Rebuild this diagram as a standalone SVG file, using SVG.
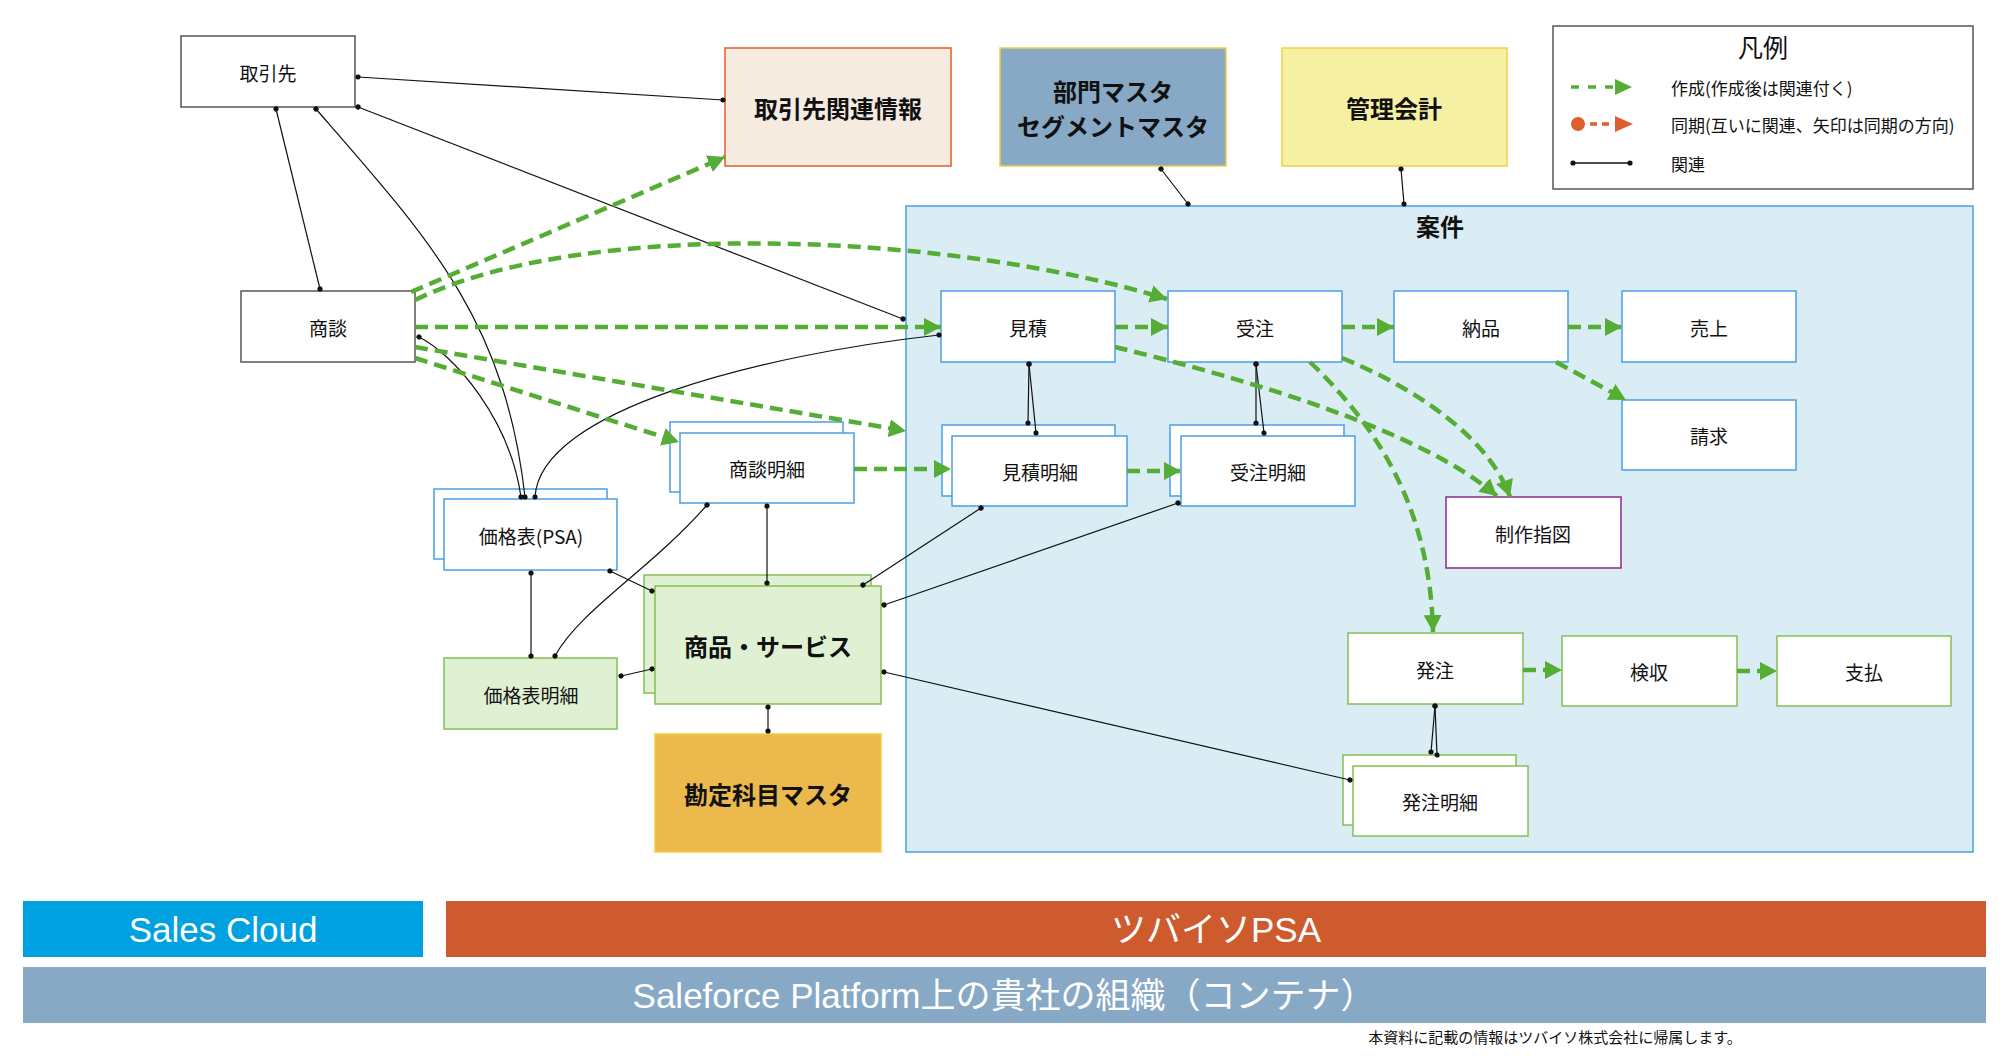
<svg xmlns="http://www.w3.org/2000/svg" width="2002" height="1056" viewBox="0 0 2002 1056">
<defs>
<style>
.t{font-family:"Noto Sans CJK JP","Noto Sans",sans-serif;font-size:19px;text-anchor:middle;dominant-baseline:central;fill:#111}
.tb{font-weight:bold;font-size:24px}
.n{fill:#fff;stroke:#555;stroke-width:1.5}
.b{fill:#fff;stroke:#4a9fe3;stroke-width:1.5}
.g{fill:#dff0d3;stroke:#84c054;stroke-width:1.5}
.gw{fill:#fff;stroke:#84c054;stroke-width:1.5}
.c{fill:none;stroke:#55ad35;stroke-width:4.5;stroke-dasharray:13 7;marker-end:url(#ga)}
.r{fill:none;stroke:#111;stroke-width:1.2;marker-start:url(#dot);marker-end:url(#dot)}
.bar{font-family:"Liberation Sans","Noto Sans CJK JP",sans-serif;font-size:35px;text-anchor:middle;dominant-baseline:central;fill:#fff}
</style>
<marker id="ga" markerUnits="userSpaceOnUse" markerWidth="18" markerHeight="18" viewBox="0 0 18 18" refX="17" refY="9" orient="auto">
<path d="M0,0 L17,9 L0,18 z" fill="#55ad35"/>
</marker>
<marker id="dot" markerUnits="userSpaceOnUse" markerWidth="6" markerHeight="6" viewBox="0 0 6 6" refX="3" refY="3" orient="auto">
<circle cx="3" cy="3" r="2.6" fill="#111"/>
</marker>
</defs>
<rect x="0" y="0" width="2002" height="1056" fill="#fff"/>

<g id="anken">
<rect x="906" y="206" width="1067" height="646" fill="#dbedf4" stroke="#4a9fe3" stroke-width="1.5"/>
<text class="t tb" x="1440" y="225">案件</text>
</g>

<g id="torihikisaki"><rect class="n" x="181" y="36" width="174" height="71"/><text class="t" x="268" y="72">取引先</text></g>
<g id="kanren"><rect x="725" y="48" width="226" height="118" fill="#f5ebe1" stroke="#e35d26" stroke-width="1.5"/><text class="t tb" x="838" y="107">取引先関連情報</text></g>
<g id="bumon"><rect x="1000" y="48" width="226" height="118" fill="#87a9c5" stroke="#efce3c" stroke-width="1.5"/><text class="t tb" x="1113" y="90">部門マスタ</text><text class="t tb" x="1113" y="125">セグメントマスタ</text></g>
<g id="kanri"><rect x="1282" y="48" width="225" height="118" fill="#f6f0a3" stroke="#f0d045" stroke-width="1.5"/><text class="t tb" x="1394" y="107">管理会計</text></g>

<g id="legend">
<rect x="1553" y="26" width="420" height="163" fill="#fff" stroke="#555" stroke-width="1.5"/>
<text class="t" x="1763" y="46" style="font-size:25px">凡例</text>
<line x1="1571" y1="87" x2="1616" y2="87" stroke="#55ad35" stroke-width="3.5" stroke-dasharray="8 9"/>
<path d="M1615,79 L1632,87 L1615,95 z" fill="#55ad35"/>
<circle cx="1578" cy="124" r="7" fill="#dd5f2b"/>
<line x1="1578" y1="124" x2="1616" y2="124" stroke="#dd5f2b" stroke-width="3.5" stroke-dasharray="0 12 7 5 7 20"/>
<path d="M1615,116 L1633,124 L1615,132 z" fill="#dd5f2b"/>
<line x1="1573" y1="163" x2="1630" y2="163" stroke="#111" stroke-width="1.5"/>
<circle cx="1573" cy="163" r="2.6" fill="#111"/><circle cx="1630" cy="163" r="2.6" fill="#111"/>
<text class="t" x="1671" y="87" style="font-size:17px;text-anchor:start">作成(作成後は関連付く)</text>
<text class="t" x="1671" y="124" style="font-size:17px;text-anchor:start">同期(互いに関連、矢印は同期の方向)</text>
<text class="t" x="1671" y="163" style="font-size:17px;text-anchor:start">関連</text>
</g>

<g id="shodan"><rect class="n" x="241" y="291" width="174" height="71"/><text class="t" x="328" y="327">商談</text></g>
<g id="mitsumori"><rect class="b" x="941" y="291" width="174" height="71"/><text class="t" x="1028" y="327">見積</text></g>
<g id="juchu"><rect class="b" x="1168" y="291" width="174" height="71"/><text class="t" x="1255" y="327">受注</text></g>
<g id="nohin"><rect class="b" x="1394" y="291" width="174" height="71"/><text class="t" x="1481" y="327">納品</text></g>
<g id="uriage"><rect class="b" x="1622" y="291" width="174" height="71"/><text class="t" x="1709" y="327">売上</text></g>
<g id="seikyu"><rect class="b" x="1622" y="400" width="174" height="70"/><text class="t" x="1709" y="435">請求</text></g>
<g id="shodanmeisai"><rect class="b" x="670" y="422" width="173" height="70"/><rect class="b" x="680" y="433" width="174" height="70"/><text class="t" x="767" y="468">商談明細</text></g>
<g id="mitsumorimeisai"><rect class="b" x="942" y="425" width="173" height="71"/><rect class="b" x="952" y="436" width="175" height="70"/><text class="t" x="1040" y="471">見積明細</text></g>
<g id="juchumeisai"><rect class="b" x="1170" y="425" width="174" height="71"/><rect class="b" x="1181" y="436" width="174" height="70"/><text class="t" x="1268" y="471">受注明細</text></g>
<g id="seisaku"><rect x="1446" y="497" width="175" height="71" fill="#fff" stroke="#8b2a8b" stroke-width="1.5"/><text class="t" x="1533" y="533">制作指図</text></g>
<g id="kakakuhyo"><rect class="b" x="434" y="489" width="173" height="70"/><rect class="b" x="444" y="499" width="173" height="71"/><text class="t" x="531" y="535">価格表(PSA)</text></g>
<g id="kakakuhyomeisai"><rect class="g" x="444" y="658" width="173" height="71"/><text class="t" x="531" y="694">価格表明細</text></g>
<g id="shohin"><rect class="g" x="644" y="575" width="227" height="118"/><rect class="g" x="655" y="586" width="226" height="118"/><text class="t tb" x="768" y="645">商品・サービス</text></g>
<g id="kanjo"><rect x="655" y="734" width="226" height="118" fill="#ebb94c" stroke="#f2cd40" stroke-width="1.5"/><text class="t tb" x="768" y="793">勘定科目マスタ</text></g>
<g id="hacchu"><rect class="gw" x="1348" y="633" width="175" height="71"/><text class="t" x="1435" y="669">発注</text></g>
<g id="kenshu"><rect class="gw" x="1562" y="636" width="175" height="70"/><text class="t" x="1649" y="671">検収</text></g>
<g id="shiharai"><rect class="gw" x="1777" y="636" width="174" height="70"/><text class="t" x="1864" y="671">支払</text></g>
<g id="hacchumeisai"><rect class="gw" x="1343" y="755" width="173" height="70"/><rect class="gw" x="1353" y="766" width="175" height="70"/><text class="t" x="1440" y="801">発注明細</text></g>

<g id="connectors">
<path class="r" d="M358,77 L723,100"/>
<path class="r" d="M358,107 L903,319"/>
<path class="r" d="M276,109 L320,289"/>
<path class="r" d="M316,109 C430,240 505,320 525,497"/>
<path class="r" d="M419,337 C455,355 510,420 521,497"/>
<path class="r" d="M939,335 C760,355 540,410 535,497"/>
<path class="r" d="M531,573 L531,656"/>
<path class="r" d="M610,571 L652,591"/>
<path class="r" d="M707,505 C650,570 580,610 555,656"/>
<path class="r" d="M767,506 L767,583"/>
<path class="r" d="M981,508 L863,585"/>
<path class="r" d="M1178,503 L884,605"/>
<path class="r" d="M884,672 L1350,780"/>
<path class="r" d="M768,707 L768,731"/>
<path class="r" d="M621,676 L652,669"/>
<path class="r" d="M1029,364 L1028,423"/>
<path class="r" d="M1029,364 L1036,433"/>
<path class="r" d="M1256,364 L1256,423"/>
<path class="r" d="M1256,364 L1264,433"/>
<path class="r" d="M1435,706 L1431,752"/>
<path class="r" d="M1435,706 L1437,755"/>
<path class="r" d="M1161,169 L1188,204"/>
<path class="r" d="M1401,169 L1404,204"/>

<path class="c" d="M411,292 L725,157"/>
<path class="c" d="M415,300 C590,215 960,235 1167,299"/>
<path class="c" d="M415,327 L941,327"/>
<path class="c" d="M415,347 L906,431"/>
<path class="c" d="M415,358 L679,442"/>
<path class="c" d="M854,469 L951,469"/>
<path class="c" d="M1115,327 L1168,327"/>
<path class="c" d="M1342,327 L1394,327"/>
<path class="c" d="M1568,327 L1622,327"/>
<path class="c" d="M1127,471 L1181,471"/>
<path class="c" d="M1556,362 L1626,400"/>
<path class="c" d="M1115,347 C1250,380 1420,430 1497,496"/>
<path class="c" d="M1342,358 C1420,390 1490,440 1510,497"/>
<path class="c" d="M1310,362 C1370,420 1430,500 1433,632"/>
<path class="c" d="M1523,670 L1562,670"/>
<path class="c" d="M1737,671 L1777,671"/>
</g>

<g id="bars">
<rect x="23" y="901" width="400" height="56" fill="#00a1e0"/>
<text class="bar" x="223" y="929">Sales Cloud</text>
<rect x="446" y="901" width="1540" height="56" fill="#cd5b2e"/>
<text class="bar" x="1216" y="929">ツバイソPSA</text>
<rect x="23" y="967" width="1963" height="56" fill="#87a9c6"/>
<text class="bar" x="1004" y="995">Saleforce Platform上の貴社の組織（コンテナ）</text>
</g>
<text class="t" x="1555" y="1036" style="font-size:15px">本資料に記載の情報はツバイソ株式会社に帰属します。</text>
</svg>
